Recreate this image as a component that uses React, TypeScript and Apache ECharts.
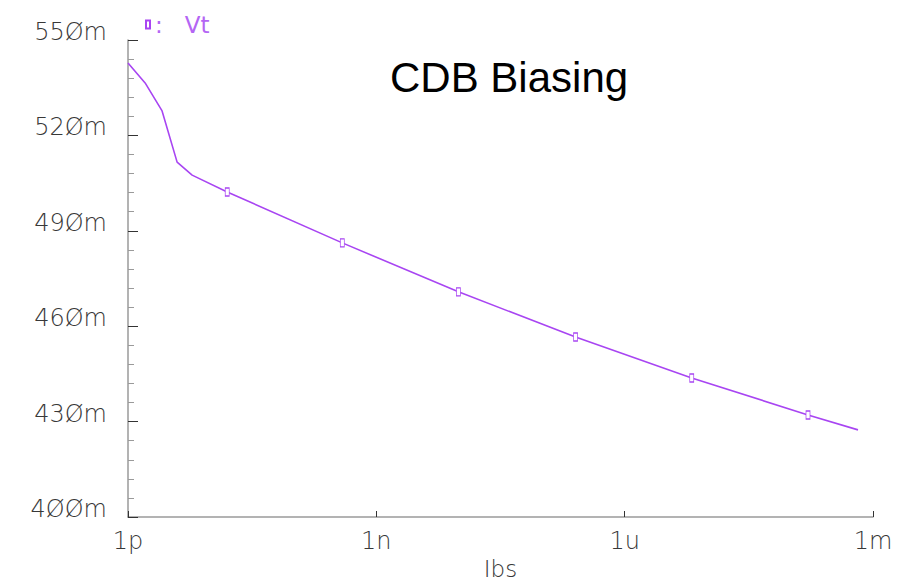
import React, { useEffect, useRef } from "react";
import * as echarts from "echarts";

// Ibs (A) on log scale, Vt (V)
const ibs = [1e-12, 1.61e-12, 2.58e-12, 3.92e-12, 5.95e-12, 15.8e-12, 388e-12, 9.8e-9, 255e-9, 6.46e-6, 164e-6, 659e-6];
const vt = [0.5428, 0.5365, 0.5277, 0.5116, 0.5075, 0.5022, 0.4862, 0.4708, 0.4566, 0.4437, 0.4321, 0.4274];
const markerIdx = [5, 6, 7, 8, 9, 10];
const xTickLabels: Record<string, string> = { "-12": "1p", "-9": "1n", "-6": "1u", "-3": "1m" };
const yMin = 0.4;
const yMax = 0.55;
const yStep = 0.03;

const PURPLE = "#a845f2";
const LABEL = "#383838";

export default function App() {
  const ref = useRef<HTMLDivElement>(null);
  useEffect(() => {
    if (!ref.current) return;
    const chart = echarts.init(ref.current, undefined, { renderer: "svg" });
    const data = ibs.map((x, i) => {
      const item: any = { value: [x, vt[i]] };
      if (!markerIdx.includes(i)) item.symbol = "none";
      return item;
    });
    chart.setOption({
      animation: false,
      backgroundColor: "#ffffff",
      title: {
        text: "CDB Biasing",
        left: 385,
        top: 51,
        textStyle: { fontFamily: "Liberation Sans, Arial, sans-serif", fontSize: 42, fontWeight: "normal", color: "#000" },
      },
      legend: {
        left: 140,
        top: 8,
        icon: "rect",
        itemWidth: 4,
        itemHeight: 8,
        itemGap: 4,
        data: ["Vt"],
        formatter: ":   {name}",
        textStyle: { color: "#b466f4", fontSize: 23, fontFamily: "DejaVu Sans, sans-serif" },
      },
      grid: { left: 128, right: 37, top: 40, bottom: 64, outerBoundsMode: "none", containLabel: false },
      xAxis: {
        type: "log",
        logBase: 1000,
        min: 1e-12,
        max: 1e-3,
        name: "Ibs",
        nameLocation: "middle",
        nameGap: 38,
        nameTextStyle: { fontFamily: "DejaVu Sans, sans-serif", fontSize: 23, lineHeight: 22, color: LABEL, fontWeight: 200 },
        axisLine: { show: true, onZero: false, lineStyle: { color: "#9a9a9a", width: 1.5 } },
        axisTick: { show: true, inside: true, length: 6, lineStyle: { color: "#333", width: 1 } },
        minorTick: { show: false },
        splitLine: { show: false },
        axisLabel: {
          margin: 12,
          fontFamily: "DejaVu Sans, sans-serif",
          fontSize: 24,
          fontWeight: 200,
          color: LABEL,
          formatter: (v: number) => xTickLabels[String(Math.round(Math.log10(v)))] ?? "",
        },
      },
      yAxis: {
        type: "value",
        min: yMin,
        max: yMax,
        interval: yStep,
        axisLine: { show: true, lineStyle: { color: "#9a9a9a", width: 1.5 } },
        axisTick: { show: true, inside: true, length: 10, lineStyle: { color: "#333", width: 1 } },
        minorTick: { show: true, splitNumber: 5, length: 6, lineStyle: { color: "#9a9a9a", width: 1 } },
        splitLine: { show: false },
        axisLabel: {
          margin: 21,
          fontFamily: "DejaVu Sans, sans-serif",
          fontSize: 24,
          fontWeight: 200,
          color: LABEL,
          verticalAlign: "bottom",
          lineHeight: 16,
          formatter: (v: number) => String(Math.round(v * 1000)).replace(/0/g, "Ø") + "m",
        },
      },
      series: [
        {
          name: "Vt",
          type: "line",
          data,
          symbol: "rect",
          symbolSize: [4, 8],
          showAllSymbol: true,
          lineStyle: { color: PURPLE, width: 1.6 },
          itemStyle: { color: "#ffffff", borderColor: PURPLE, borderWidth: 1 },
        },
      ],
    });
    return () => chart.dispose();
  }, []);
  return <div ref={ref} style={{ position: "fixed", left: 0, top: 0, width: 910, height: 581 }} />;
}
